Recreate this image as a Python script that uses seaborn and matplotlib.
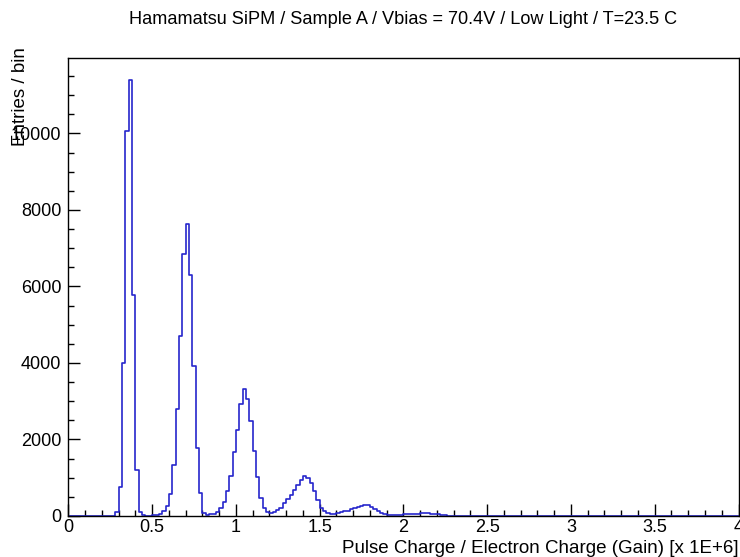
import numpy as np
import pandas as pd
import matplotlib
matplotlib.use("Agg")
import matplotlib.pyplot as plt
from matplotlib.ticker import MultipleLocator, FuncFormatter
import seaborn as sns

# ---- data ----
title = "Hamamatsu SiPM / Sample A / Vbias = 70.4V / Low Light / T=23.5 C"
x_label = "Pulse Charge / Electron Charge (Gain) [x 1E+6]"
y_label = "Entries / bin"

bin_low = 0.0
bin_high = 4.0
n_bins = 200

counts = [
    0, 0, 0, 0, 0, 0, 0, 0, 0, 0, 0, 0, 0, 0, 110, 750, 4010, 10075, 11400, 5770,
    1200, 100, 20, 10, 10, 15, 25, 50, 120, 250, 565, 1330, 2790, 4700, 6840, 7620, 6310, 3920, 1765, 590,
    90, 35, 45, 65, 100, 200, 375, 650, 1040, 1670, 2260, 2940, 3310, 3060, 2480, 1700, 1030, 460, 215, 115,
    80, 100, 150, 220, 340, 435, 560, 690, 820, 930, 1035, 990, 860, 650, 425, 220, 120, 80, 60, 60,
    80, 105, 120, 130, 175, 200, 245, 260, 300, 280, 225, 180, 130, 87, 60, 35, 26, 17, 26, 35,
    43, 52, 52, 60, 60, 70, 78, 70, 60, 52, 43, 26, 17, 9, 0, 0, 0, 0, 0, 0,
    0, 0, 0, 0, 0, 0, 0, 0, 0, 0, 0, 0, 0, 0, 0, 0, 0, 0, 0, 0,
    0, 0, 0, 0, 0, 0, 0, 0, 0, 0, 0, 0, 0, 0, 0, 0, 0, 0, 0, 0,
    0, 0, 0, 0, 0, 0, 0, 0, 0, 0, 0, 0, 0, 0, 0, 0, 0, 0, 0, 0,
    0, 0, 0, 0, 0, 0, 0, 0, 0, 0, 0, 0, 0, 0, 0, 0, 0, 0, 0, 0,
]

edges = np.linspace(bin_low, bin_high, n_bins + 1)
centers = 0.5 * (edges[:-1] + edges[1:])
df = pd.DataFrame({"charge": centers, "entries": counts})

# ---- style ----
sns.set_theme(style="white")
plt.rcParams["font.family"] = ["Liberation Sans", "DejaVu Sans"]

W, H, DPI = 740, 557, 100
fig = plt.figure(figsize=(W / DPI, H / DPI), dpi=DPI)
ax_left, ax_right, ax_top, ax_bot = 68.4, 738.5, 58.0, 516.0
ax_w, ax_h = ax_right - ax_left, ax_bot - ax_top
ax = fig.add_axes([ax_left / W, 1 - ax_bot / H, ax_w / W, ax_h / H])

sns.histplot(data=df, x="charge", weights="entries", bins=edges.tolist(),
             element="step", fill=False, color="#2626cc", linewidth=1.2, ax=ax)

ax.set_xlim(bin_low, bin_high)
ax.set_ylim(0, 1.05 * max(counts))

for s in ax.spines.values():
    s.set_color("black")
    s.set_linewidth(1.0)
    s.set_zorder(5)

ax.xaxis.set_major_locator(MultipleLocator(0.5))
ax.xaxis.set_minor_locator(MultipleLocator(0.1))
ax.yaxis.set_major_locator(MultipleLocator(2000))
ax.yaxis.set_minor_locator(MultipleLocator(500))
ax.xaxis.set_major_formatter(FuncFormatter(lambda v, p: f"{v:g}"))
ax.yaxis.set_major_formatter(FuncFormatter(lambda v, p: f"{v:g}"))

ax.tick_params(axis="both", which="both", direction="in", color="black",
               top=False, right=False, bottom=True, left=True, labelsize=13, labelcolor="black")
ax.tick_params(axis="both", which="major", length=8.6, width=1.0)
ax.tick_params(axis="both", which="minor", length=4.3, width=1.0)
ax.tick_params(axis="x", which="major", pad=2)
ax.tick_params(axis="y", which="major", pad=5)

ax.set_xlabel(x_label, fontsize=13.5, loc="right", color="black")
ax.xaxis.set_label_coords(1.0, -0.052)

ax.set_ylabel(y_label, fontsize=13.5, loc="top", color="black", va="center")
ax.yaxis.set_label_coords((21 - ax_left) / ax_w, (ax_bot - 47) / ax_h)

fig.text((ax_left + ax_right) / 2 / W, 1 - 20 / H, title, ha="center", va="center",
         fontsize=13.1, color="black")

fig.savefig("out.png", dpi=DPI)
